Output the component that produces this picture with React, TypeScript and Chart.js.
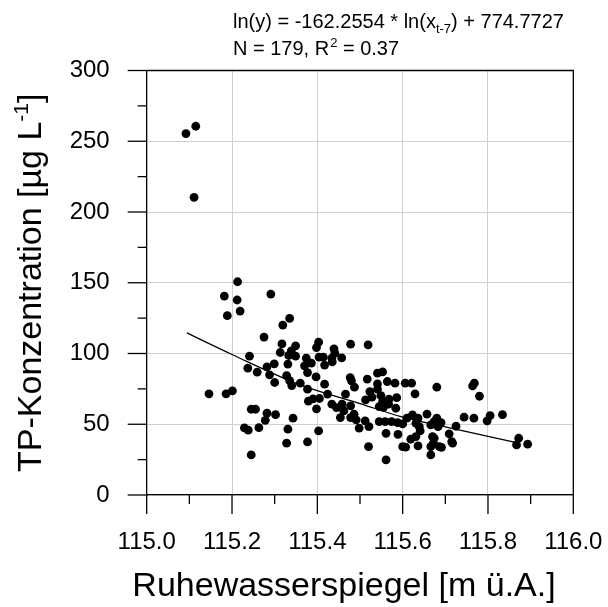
import React, { useEffect, useRef } from 'react';
import { Chart, registerables } from 'chart.js';

Chart.register(...registerables);

// Groundwater level (m ü.A.) of each sample
const waterLevel = [
  115.092, 115.115, 115.111,
  115.213, 115.182, 115.212, 115.219, 115.189, 115.291, 115.335, 115.319, 115.275, 115.317, 115.349,
  115.313, 115.339, 115.333, 115.349, 115.374, 115.241, 115.237, 115.282, 115.331, 115.370,
  115.259, 115.299, 115.288, 115.300, 115.328, 115.335, 115.340, 115.360, 115.377, 115.377, 115.379,
  115.146, 115.186, 115.201, 115.245, 115.255, 115.282, 115.302, 115.278, 115.343, 115.229, 115.238,
  115.263, 115.331, 115.328, 115.377, 115.245,
  115.403, 115.398, 115.478, 115.519, 115.439, 115.441, 115.404, 115.414, 115.434, 115.457, 115.435,
  115.386, 115.417, 115.397, 115.417, 115.477, 115.480, 115.487, 115.517, 115.541, 115.553, 115.541,
  115.564, 115.582, 115.606, 115.621, 115.629, 115.680, 115.466, 115.424, 115.523, 115.541, 115.528,
  115.513, 115.549, 115.568, 115.586, 115.553, 115.390, 115.405, 115.398, 115.434, 115.445, 115.458,
  115.462, 115.478, 115.486, 115.454, 115.478, 115.498, 115.491, 115.512, 115.521, 115.545, 115.559,
  115.574, 115.588, 115.545, 115.555, 115.567, 115.584, 115.561, 115.589, 115.520, 115.561, 115.403,
  115.600, 115.607, 115.600, 115.610, 115.623, 115.636, 115.631, 115.639, 115.641, 115.619, 115.631,
  115.636, 115.657, 115.666, 115.674, 115.670, 115.666, 115.666, 115.680, 115.683, 115.686,
  115.764, 115.768, 115.780, 115.744, 115.767, 115.798, 115.805, 115.834, 115.725, 115.690, 115.709,
  115.715, 115.717, 115.674, 115.672, 115.691, 115.872, 115.867, 115.893,
];

// TP concentration (µg/L) of each sample
const tpConcentration = [
  255.4, 260.6, 210.4,
  150.7, 140.6, 137.8, 130.0, 126.7, 142.0, 124.8, 120.1, 111.6, 106.8, 105.4,
  100.7, 101.9, 98.6, 98.1, 96.7, 98.1, 89.6, 90.6, 92.5, 91.3,
  86.8, 92.7, 84.9, 79.5, 84.4, 80.9, 77.3, 79.0, 86.5, 74.8, 66.3,
  71.5, 71.5, 73.6, 60.6, 60.6, 57.8, 56.8, 52.8, 54.3, 47.4, 45.8,
  47.6, 46.5, 36.6, 37.5, 28.3,
  108.0, 104.2, 106.6, 106.1, 103.3, 100.3, 97.4, 97.4, 96.7, 96.9, 94.1,
  93.2, 91.8, 83.5, 78.3, 83.0, 80.7, 76.2, 81.9, 86.1, 87.0, 78.5,
  80.2, 79.0, 79.0, 79.0, 71.5, 76.2, 71.3, 71.3, 73.1, 74.8, 69.1,
  67.2, 70.3, 67.7, 68.8, 66.0, 67.9, 68.2, 60.9, 64.2, 61.8, 64.2,
  59.4, 63.0, 57.1, 54.7, 54.7, 47.2, 53.1, 52.4, 48.3, 51.9, 51.9,
  51.9, 51.2, 62.5, 62.0, 64.2, 61.3, 43.6, 42.9, 34.2, 24.8, 45.3,
  34.2, 33.8, 50.2, 54.3, 56.6, 54.3, 50.7, 48.3, 45.3, 39.4, 41.3,
  34.7, 57.1, 49.5, 51.9, 41.3, 34.2, 28.3, 54.3, 48.3, 34.2,
  77.1, 79.0, 69.8, 55.0, 54.3, 52.4, 56.1, 56.8, 48.6, 51.2, 43.2,
  37.7, 36.6, 40.1, 36.6, 33.7, 40.1, 35.4, 35.9,
];

// Fitted curve
const fitLevel = [115.094, 115.2, 115.36, 115.5, 115.596, 115.7, 115.803, 115.867];
const fitConcentration = [114.6, 99.3, 77.8, 64.6, 55.4, 48.2, 41.3, 37.0];

const xTickLabels = ['115.0', '115.2', '115.4', '115.6', '115.8', '116.0'];
const yTickLabels = ['0', '50', '100', '150', '200', '250', '300'];

const xTitle = 'Ruhewasserspiegel [m ü.A.]';
const yTitleMain = 'TP-Konzentration [µg L';
const yTitleSup = '-1';
const yTitleEnd = ']';
const eqStart = 'ln(y) = -162.2554 * ln(x';
const eqSub = 't-7';
const eqEnd = ') + 774.7727';
const statStart = 'N = 179, R';
const statSup = '2';
const statEnd = ' = 0.37';

const FONT = '"Liberation Sans", Arial, Helvetica, sans-serif';

const decorPlugin = {
  id: 'decor',
  afterDraw(chart: any) {
    const { ctx, chartArea: a } = chart;
    const xs = chart.scales.x;
    const ys = chart.scales.y;
    ctx.save();
    ctx.strokeStyle = '#000';
    ctx.lineWidth = 1.3;
    ctx.beginPath();
    ctx.moveTo(a.left, a.top);
    ctx.lineTo(a.right, a.top);
    ctx.lineTo(a.right, a.bottom);
    ctx.stroke();
    for (let i = 0; i <= 10; i++) {
      const px = xs.getPixelForValue(115 + i * 0.1);
      const len = i % 2 === 0 ? 19 : 9;
      ctx.beginPath();
      ctx.moveTo(px, a.bottom);
      ctx.lineTo(px, a.bottom + len);
      ctx.stroke();
    }
    for (let i = 0; i <= 12; i++) {
      const py = ys.getPixelForValue(i * 25);
      const len = i % 2 === 0 ? 19 : 9;
      ctx.beginPath();
      ctx.moveTo(a.left - len, py);
      ctx.lineTo(a.left, py);
      ctx.stroke();
    }
    ctx.fillStyle = '#000';
    ctx.font = `34px ${FONT}`;
    ctx.textAlign = 'center';
    ctx.textBaseline = 'alphabetic';
    ctx.fillText(xTitle, 344, 596);
    ctx.save();
    ctx.translate(41, (a.top + a.bottom) / 2);
    ctx.rotate(-Math.PI / 2);
    ctx.textAlign = 'left';
    ctx.font = `34px ${FONT}`;
    const w1 = ctx.measureText(yTitleMain).width;
    const w3 = ctx.measureText(yTitleEnd).width;
    ctx.font = `21px ${FONT}`;
    const w2 = ctx.measureText(yTitleSup).width;
    const total = w1 + w2 + w3;
    let cx = -total / 2;
    ctx.font = `34px ${FONT}`;
    ctx.fillText(yTitleMain, cx, 0);
    cx += w1;
    ctx.font = `21px ${FONT}`;
    ctx.fillText(yTitleSup, cx, -13);
    cx += w2;
    ctx.font = `34px ${FONT}`;
    ctx.fillText(yTitleEnd, cx, 0);
    ctx.restore();
    ctx.textAlign = 'left';
    let ax = 233;
    ctx.font = `20px ${FONT}`;
    ctx.fillText(eqStart, ax, 28);
    ax += ctx.measureText(eqStart).width;
    ctx.font = `13px ${FONT}`;
    ctx.fillText(eqSub, ax, 33);
    ax += ctx.measureText(eqSub).width;
    ctx.font = `20px ${FONT}`;
    ctx.fillText(eqEnd, ax, 28);
    ax = 233;
    ctx.fillText(statStart, ax, 55);
    ax += ctx.measureText(statStart).width;
    ctx.font = `13px ${FONT}`;
    ctx.fillText(statSup, ax + 1, 47);
    ax += ctx.measureText(statSup).width + 1;
    ctx.font = `20px ${FONT}`;
    ctx.fillText(statEnd, ax, 55);
    ctx.restore();
  },
};

export default function App() {
  const ref = useRef<HTMLCanvasElement | null>(null);
  useEffect(() => {
    if (!ref.current) return;
    const points = waterLevel.map((x, i) => ({ x, y: tpConcentration[i] }));
    const fit = fitLevel.map((x, i) => ({ x, y: fitConcentration[i] }));
    const chart = new Chart(ref.current, {
      type: 'scatter',
      data: {
        datasets: [
          {
            data: points,
            backgroundColor: '#000',
            borderColor: '#000',
            borderWidth: 0,
            pointRadius: 4.4,
            showLine: false,
          },
          {
            data: fit,
            showLine: true,
            borderColor: '#000',
            borderWidth: 1.2,
            pointRadius: 0,
            cubicInterpolationMode: 'monotone',
            fill: false,
          } as any,
        ],
      },
      options: {
        animation: false,
        responsive: false,
        events: [],
        layout: { padding: { left: 0, right: 34.7, top: 70.5, bottom: 0 } },
        plugins: { legend: { display: false }, tooltip: { enabled: false } },
        scales: {
          x: {
            type: 'linear',
            min: 115,
            max: 116,
            afterFit: (s: any) => { s.height = 112; s.paddingLeft = 0; s.paddingRight = 0; },
            ticks: {
              stepSize: 0.2,
              padding: 33,
              color: '#000',
              font: { size: 24, family: FONT },
              maxRotation: 0,
              autoSkip: false,
              callback: (_v: any, i: number) => xTickLabels[i] ?? '',
            },
            grid: { color: '#cfcfcf', lineWidth: 1, drawTicks: false },
            border: { color: '#000', width: 1.3 },
          },
          y: {
            type: 'linear',
            min: 0,
            max: 300,
            afterFit: (s: any) => { s.width = 146.7; s.paddingTop = 0; s.paddingBottom = 0; },
            ticks: {
              stepSize: 50,
              padding: 37,
              color: '#000',
              font: { size: 24, family: FONT },
              callback: (_v: any, i: number) => yTickLabels[i] ?? '',
            },
            grid: { color: '#cfcfcf', lineWidth: 1, drawTicks: false },
            border: { color: '#000', width: 1.3 },
          },
        },
      },
      plugins: [decorPlugin],
    });
    return () => chart.destroy();
  }, []);
  return (
    <div style={{ position: 'absolute', left: 0, top: 0, width: 608, height: 607, background: '#fff' }}>
      <canvas ref={ref} width={608} height={607} style={{ display: 'block' }} />
    </div>
  );
}
